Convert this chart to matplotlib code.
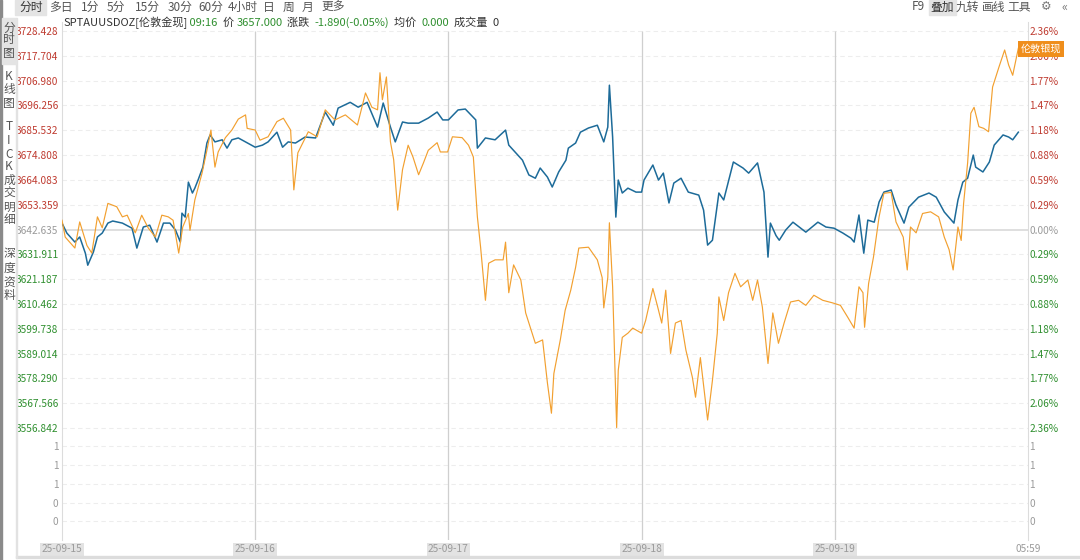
import matplotlib
matplotlib.use('Agg')
import matplotlib.pyplot as plt
from matplotlib.patches import Rectangle

plt.rcParams['font.family'] = ['Noto Sans CJK SC', 'DejaVu Sans']

W, H = 1080, 560

# hours since 25-09-15 06:00, London gold spot (USD/oz)
gold_t = [0.0, 0.6, 1.6, 2.2, 2.9, 3.2, 3.9, 4.4, 5.0, 5.7,
          6.3, 7.5, 8.7, 9.3, 10.1, 10.9, 11.8, 12.6, 13.4, 14.1,
          14.7, 14.9, 15.3, 15.7, 16.2, 16.5, 16.9, 17.5, 18.0, 18.4,
          19.0, 19.9, 20.5, 21.1, 21.9, 22.8, 24.0, 24.9, 25.6, 26.7,
          27.4, 28.1, 29.0, 30.2, 31.5, 32.7, 33.7, 34.3, 35.8, 36.8,
          37.9, 39.2, 39.9, 40.8, 41.4, 42.3, 43.0, 44.3, 45.5, 46.6,
          47.3, 48.0, 49.2, 50.1, 51.4, 51.6, 52.6, 53.8, 55.1, 55.5,
          57.2, 58.0, 58.8, 59.4, 60.3, 60.9, 61.7, 62.6, 62.9, 63.8,
          64.4, 65.4, 66.5, 67.3, 67.8, 68.0, 68.4, 68.8, 69.1, 69.6,
          70.3, 71.3, 72.0, 72.3, 73.4, 74.1, 74.7, 75.4, 76.0, 76.9,
          77.8, 79.1, 79.7, 80.2, 80.8, 81.6, 82.2, 83.4, 84.6, 85.3,
          86.4, 87.2, 87.7, 88.0, 88.7, 89.1, 89.9, 90.8, 92.4, 93.9,
          94.9, 95.9, 97.0, 98.0, 98.4, 99.0, 99.6, 100.1, 100.9, 101.5,
          102.1, 103.0, 103.6, 104.6, 105.2, 106.4, 107.7, 108.6, 109.6, 110.8,
          111.3, 111.9, 112.5, 113.2, 113.5, 114.4, 115.2, 115.8, 116.9, 117.6,
          118.1, 118.8]
gold_p = [3645.4, 3641.1, 3637.2, 3639.4, 3632.4, 3627.2, 3632.9, 3639.4, 3641.1, 3645.4,
          3646.3, 3645.4, 3643.2, 3634.6, 3643.7, 3644.5, 3637.2, 3645.4, 3645.4, 3642.4,
          3637.2, 3649.7, 3648.0, 3663.1, 3658.4, 3660.5, 3664.0, 3669.6, 3680.0, 3683.5,
          3680.5, 3681.4, 3677.8, 3681.4, 3682.2, 3680.5, 3678.2, 3679.1, 3680.5, 3684.7,
          3678.2, 3680.5, 3680.0, 3682.6, 3682.2, 3693.4, 3687.7, 3695.1, 3697.6, 3695.5,
          3697.6, 3686.9, 3697.3, 3686.9, 3680.5, 3689.1, 3688.6, 3688.6, 3690.8, 3693.4,
          3690.0, 3690.0, 3694.3, 3694.7, 3690.0, 3677.8, 3682.2, 3681.4, 3685.6, 3679.1,
          3672.6, 3666.2, 3664.8, 3669.2, 3665.3, 3661.0, 3667.5, 3672.6, 3677.8, 3680.0,
          3684.7, 3686.5, 3687.7, 3680.5, 3686.9, 3705.0, 3682.6, 3648.0, 3664.0, 3658.4,
          3660.5, 3658.8, 3658.8, 3664.0, 3670.5, 3664.0, 3667.0, 3654.1, 3662.7, 3664.8,
          3658.8, 3657.5, 3651.0, 3635.9, 3638.0, 3658.4, 3655.4, 3671.8, 3669.2, 3667.0,
          3671.4, 3658.8, 3630.7, 3645.4, 3640.0, 3638.0, 3642.4, 3645.8, 3641.5, 3645.8,
          3643.7, 3643.2, 3641.1, 3638.9, 3637.2, 3648.9, 3632.4, 3646.7, 3645.8, 3654.5,
          3658.8, 3659.7, 3653.2, 3645.4, 3652.3, 3656.6, 3658.4, 3656.6, 3650.2, 3645.4,
          3655.4, 3663.1, 3664.8, 3674.8, 3669.6, 3667.5, 3671.8, 3679.1, 3683.5, 3682.6,
          3681.4, 3684.7]

# London silver spot overlay, % change
silver_t = [0.0, 0.4, 1.6, 2.2, 3.1, 3.7, 4.4, 5.0, 5.7, 6.8,
            7.5, 8.1, 9.1, 9.9, 10.7, 11.6, 12.4, 13.2, 13.8, 14.5,
            15.0, 15.7, 15.9, 16.5, 17.4, 18.0, 18.5, 19.0, 19.4, 20.3,
            21.1, 21.9, 22.8, 23.0, 24.0, 24.6, 25.6, 26.7, 27.5, 28.4,
            28.8, 29.3, 30.6, 31.7, 32.7, 33.9, 35.2, 36.7, 37.7, 38.5,
            39.2, 39.5, 39.8, 40.3, 40.8, 41.2, 41.7, 42.3, 43.0, 43.6,
            44.3, 44.9, 45.5, 46.6, 47.0, 47.9, 48.5, 49.7, 50.5, 51.1,
            51.6, 52.0, 52.6, 53.0, 53.8, 54.8, 55.1, 55.5, 56.1, 57.0,
            57.6, 58.8, 59.7, 60.3, 60.8, 61.1, 61.9, 62.5, 63.2, 63.8,
            64.2, 65.4, 66.5, 67.1, 67.3, 67.8, 68.0, 68.4, 68.6, 68.9,
            69.1, 69.6, 70.3, 70.9, 72.0, 72.5, 73.4, 74.0, 74.5, 75.0,
            75.6, 76.2, 76.9, 77.5, 78.3, 78.7, 79.3, 80.2, 80.8, 81.4,
            81.6, 82.2, 82.8, 83.6, 84.3, 85.2, 85.8, 86.4, 87.0, 87.7,
            88.3, 89.0, 89.7, 90.5, 91.5, 92.4, 93.4, 94.5, 95.7, 96.7,
            97.6, 98.4, 99.0, 99.5, 99.7, 100.2, 100.8, 101.5, 102.1, 103.0,
            103.6, 104.5, 105.0, 105.4, 106.1, 106.9, 107.9, 108.9, 109.6, 110.2,
            110.7, 111.3, 111.7, 112.0, 112.5, 112.9, 113.3, 113.9, 114.5, 115.1,
            115.6, 116.4, 117.1, 117.6, 118.1, 118.8]
silver_pct = [0.11, -0.09, -0.22, 0.09, -0.19, -0.28, 0.15, 0.02, 0.31, 0.27,
              0.15, 0.17, -0.04, 0.17, 0.02, -0.09, 0.17, 0.15, 0.11, -0.28,
              0.03, 0.19, -0.01, 0.35, 0.67, 0.94, 1.18, 0.74, 0.92, 1.09,
              1.18, 1.31, 1.36, 1.20, 1.18, 1.06, 1.10, 1.28, 1.32, 1.18,
              0.47, 0.91, 1.16, 1.10, 1.42, 1.30, 1.36, 1.24, 1.62, 1.45,
              1.42, 1.86, 1.54, 1.81, 1.04, 0.83, 0.23, 0.71, 1.00, 0.86,
              0.65, 0.79, 0.94, 1.03, 0.92, 0.92, 1.10, 1.09, 1.00, 0.86,
              0.15, -0.21, -0.84, -0.40, -0.36, -0.36, -0.15, -0.75, -0.42, -0.60,
              -0.99, -1.35, -1.31, -1.82, -2.18, -1.71, -1.31, -0.96, -0.72, -0.45,
              -0.22, -0.21, -0.36, -0.57, -0.93, -0.57, 0.08, -0.68, -1.35, -2.35,
              -1.67, -1.28, -1.23, -1.17, -1.23, -1.08, -0.70, -0.92, -1.11, -0.72,
              -1.47, -1.11, -1.08, -1.43, -1.75, -1.99, -1.52, -2.26, -1.79, -1.23,
              -0.80, -1.08, -0.75, -0.52, -0.68, -0.60, -0.84, -0.60, -0.92, -1.59,
              -0.99, -1.35, -1.11, -0.86, -0.84, -0.90, -0.78, -0.84, -0.87, -0.90,
              -1.04, -1.17, -0.68, -0.75, -1.16, -0.64, -0.33, 0.15, 0.43, 0.44,
              0.09, -0.09, -0.48, 0.03, -0.04, 0.19, 0.21, 0.15, -0.09, -0.24,
              -0.48, 0.03, -0.13, 0.31, 0.79, 1.38, 1.45, 1.22, 1.20, 1.16,
              1.69, 1.93, 2.13, 1.95, 1.83, 2.15]

prev_close = 3642.635
left_labels = ['3728.428', '3717.704', '3706.980', '3696.256', '3685.532', '3674.808',
               '3664.083', '3653.359', '3642.635', '3631.911', '3621.187', '3610.462',
               '3599.738', '3589.014', '3578.290', '3567.566', '3556.842']
right_labels = ['2.36%', '2.06%', '1.77%', '1.47%', '1.18%', '0.88%', '0.59%', '0.29%', '0.00%',
                '0.29%', '0.59%', '0.88%', '1.18%', '1.47%', '1.77%', '2.06%', '2.36%']
vol_ticks = [0.2, 0.4, 0.6, 0.8, 1.0]
vol_labels = ['0', '0', '1', '1', '1']
day_pos = [0, 24, 48, 72, 96, 120]
day_labels = ['25-09-15', '25-09-16', '25-09-17', '25-09-18', '25-09-19', '05:59']

toolbar = ['多日', '1分', '5分', '15分', '30分', '60分', '4小时', '日', '周', '月', '更多']
toolbar_x = [61, 90, 116, 147, 180, 211, 243, 269, 289, 308, 333]
right_tools = ['F9', '叠加', '九转', '画线', '工具']
right_tools_x = [918, 942, 967, 994, 1019]

RED = '#bf3b30'
GREEN = '#2f8f2f'
GREY = '#9a9a9a'
BLUE = '#1d6b99'
ORANGE = '#f2a030'
FS = 7.3


def fx(px):
    return px / W


def fy(py):
    return 1 - py / H


fig = plt.figure(figsize=(W / 100, H / 100), dpi=100)
fig.patch.set_facecolor('white')

# price panel: pixel 31 -> top label, 428 -> bottom label
top_v = float(left_labels[0])
bot_v = float(left_labels[-1])
ppu = (428 - 31) / (top_v - bot_v)
ax = fig.add_axes([fx(62), fy(437), fx(1028) - fx(62), (437 - 22) / H])
ax.set_xlim(0, 120)
ax.set_ylim(bot_v - 9 / ppu, top_v + 9 / ppu)

tick_vals = [float(s) for s in left_labels]
for v in tick_vals:
    if v == prev_close:
        ax.axhline(v, color='#dcdcdc', lw=1.3, zorder=1)
    else:
        ax.axhline(v, color='#ededed', lw=0.8, ls=(0, (4, 3)), zorder=1)
for d in day_pos[1:-1]:
    ax.vlines(d, ax.get_ylim()[0], top_v, color='#cfcfcf', lw=0.9, zorder=1)

ax.plot(gold_t, gold_p, color=BLUE, lw=1.1, zorder=3)
silver_price = [prev_close * (1 + p / 100) for p in silver_pct]
ax.plot(silver_t, silver_price, color=ORANGE, lw=0.85, zorder=4)

ax.set_yticks(tick_vals)
ax.set_yticklabels(left_labels, fontsize=FS)
ax.tick_params(axis='y', length=0, pad=2.5)
ax.set_xticks([])
for i, lab in enumerate(ax.get_yticklabels()):
    lab.set_color(RED if i < 8 else (GREY if i == 8 else GREEN))
for s in ['top', 'bottom']:
    ax.spines[s].set_visible(False)
for s in ['left', 'right']:
    ax.spines[s].set_color('#dcdcdc')
    ax.spines[s].set_linewidth(0.8)

axr = ax.twinx()
axr.set_ylim(ax.get_ylim())
axr.set_yticks(tick_vals)
axr.set_yticklabels(right_labels, fontsize=FS)
axr.tick_params(axis='y', length=0, pad=1)
for i, lab in enumerate(axr.get_yticklabels()):
    lab.set_color(RED if i < 8 else (GREY if i == 8 else GREEN))
for s in axr.spines.values():
    s.set_visible(False)

# volume panel
axv = fig.add_axes([fx(62), fy(540), fx(1028) - fx(62), (540 - 437) / H])
axv.set_xlim(0, 120)
axv.set_ylim(0, 1.1)
for v in vol_ticks:
    axv.axhline(v, color='#ededed', lw=0.8, ls=(0, (4, 3)), zorder=1)
for d in day_pos[1:-1]:
    axv.axvline(d, color='#cfcfcf', lw=0.9, zorder=1)
axv.set_yticks(vol_ticks)
axv.set_yticklabels(vol_labels, fontsize=FS, color=GREY)
axv.tick_params(axis='y', length=0, pad=2.5)
axv.set_xticks(day_pos)
axv.set_xticklabels(day_labels, fontsize=FS, color=GREY)
axv.tick_params(axis='x', length=0, pad=3)
for lab in axv.get_xticklabels()[:-1]:
    lab.set_bbox(dict(boxstyle='square,pad=0.15', fc='#e3e3e3', ec='none'))
for s in ['top', 'bottom']:
    axv.spines[s].set_visible(False)
for s in ['left', 'right']:
    axv.spines[s].set_color('#dcdcdc')
    axv.spines[s].set_linewidth(0.8)
axvr = axv.twinx()
axvr.set_ylim(0, 1.1)
axvr.set_yticks(vol_ticks)
axvr.set_yticklabels(vol_labels, fontsize=FS, color=GREY)
axvr.tick_params(axis='y', length=0, pad=1)
for s in axvr.spines.values():
    s.set_visible(False)

# frame, side bar and toolbars
fig.patches.append(Rectangle((0, 0), fx(2), 1, transform=fig.transFigure, color='#8a8a8a'))
fig.patches.append(Rectangle((fx(16), fy(558)), 1 - fx(16), 2 / H, transform=fig.transFigure, color='#dcdcdc'))
fig.patches.append(Rectangle((fx(16), fy(558)), 1 / W, (558 - 18) / H, transform=fig.transFigure, color='#e2e2e2'))
fig.patches.append(Rectangle((fx(2), fy(64)), 14 / W, 46 / H, transform=fig.transFigure, color='#e4e4e4'))
fig.patches.append(Rectangle((fx(15), fy(15)), 31 / W, 15 / H, transform=fig.transFigure, color='#e4e4e4'))
fig.patches.append(Rectangle((fx(929), fy(15)), 27 / W, 15 / H, transform=fig.transFigure, color='#e4e4e4'))

fig.text(fx(31), fy(7), '分时', fontsize=8.5, color='#333333', ha='center', va='center')
for t, x in zip(toolbar, toolbar_x):
    fig.text(fx(x), fy(7), t, fontsize=8.5, color='#555555', ha='center', va='center')
for t, x in zip(right_tools, right_tools_x):
    fig.text(fx(x), fy(7), t, fontsize=8.5, color='#333333' if t == '叠加' else '#555555',
             ha='center', va='center')
fig.text(fx(1046), fy(7), '⚙', fontsize=8.5, color='#777777', ha='center', va='center',
         family=['DejaVu Sans'])
fig.text(fx(1064), fy(7), '«', fontsize=9, color='#777777', ha='center', va='center')

side = [('分', 28), ('时', 40), ('图', 53), ('K', 77), ('线', 89), ('图', 103),
        ('T', 127), ('I', 141), ('C', 154), ('K', 167),
        ('成', 180), ('交', 193), ('明', 207), ('细', 220),
        ('深', 253), ('度', 268), ('资', 283), ('料', 296)]
for ch, y in side:
    fig.text(fx(9), fy(y), ch, fontsize=8.5, color='#555555', ha='center', va='center')

# header line
header = [('SPTAUUSDOZ[伦敦金现]', '#333333'), (' 09:16', GREEN), ('  价 ', '#333333'),
          ('3657.000', GREEN), ('  涨跌  ', '#333333'), ('-1.890(-0.05%)', GREEN),
          ('  均价  ', '#333333'), ('0.000', GREEN), ('  成交量  ', '#333333'), ('0', '#333333')]
x0 = 63
renderer = fig.canvas.get_renderer()
for txt, col in header:
    tt = fig.text(fx(x0), fy(23), txt, fontsize=8, color=col, ha='left', va='center')
    x0 += tt.get_window_extent(renderer).width

# silver tag at right, drawn over the 2.06% label as in the terminal
fig.text(fx(1021), fy(49), '伦敦银现', fontsize=7.3, color='white', ha='left', va='center',
         bbox=dict(boxstyle='square,pad=0.25', fc='#ef8e1c', ec='none'), zorder=10)

fig.savefig('out.png', dpi=100)
